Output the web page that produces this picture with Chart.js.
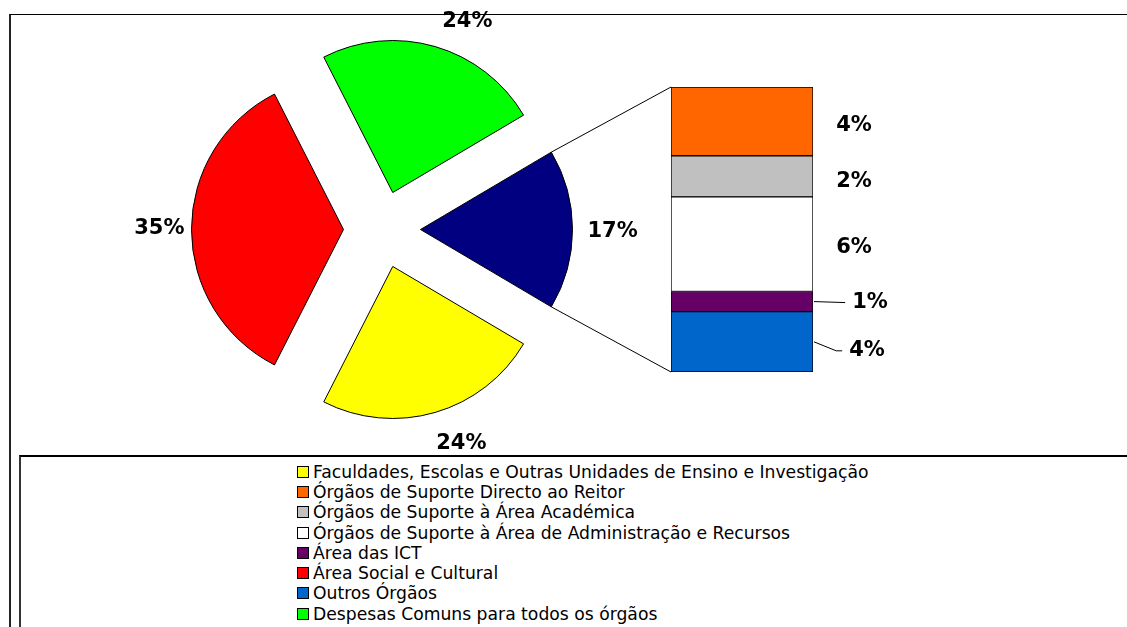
<!DOCTYPE html>
<html>
<head>
<meta charset="utf-8">
<script src="https://cdn.jsdelivr.net/npm/chart.js@4.4.1/dist/chart.umd.min.js"></script>
<style>
  html, body { margin:0; padding:0; background:#fff; width:1127px; height:627px; overflow:hidden; }
  #frame { position:absolute; left:9px; top:14px; width:1130px; height:620px; border-top:1.5px solid #000; border-left:2px solid #222; box-sizing:border-box; }
  #legendBox { position:absolute; left:19px; top:455px; width:1120px; height:180px; border-top:2px solid #000; border-left:2px solid #333; box-sizing:border-box; }
  canvas { position:absolute; left:0; top:0; }
  #legend { position:absolute; left:297px; top:461.5px; font-family:"DejaVu Sans", sans-serif; font-size:17.2px; color:#000; }
  .item { height:20.3px; display:flex; align-items:center; white-space:nowrap; }
  .sw { width:12px; height:12px; border:1px solid #000; box-sizing:border-box; margin-right:4px; flex:none; }
</style>
</head>
<body>
<div id="frame"></div>
<div id="legendBox"></div>
<canvas id="pie" width="1127" height="455"></canvas>
<canvas id="bar" width="1127" height="455"></canvas>
<div id="legend"></div>
<script>
// ---- Data ----
const legendLabels = [
  "Faculdades, Escolas e Outras Unidades de Ensino e Investigação",
  "Órgãos de Suporte Directo ao Reitor",
  "Órgãos de Suporte à Área Académica",
  "Órgãos de Suporte à Área de Administração e Recursos",
  "Área das ICT",
  "Área Social e Cultural",
  "Outros Órgãos",
  "Despesas Comuns para todos os órgãos"
];
const legendColors = ["#FFFF00", "#FF6600", "#C0C0C0", "#FFFFFF", "#660066", "#FF0000", "#0066CC", "#00FF00"];

// main pie (clockwise from the lower right)
const pieLabels = ["Faculdades, Escolas e Outras Unidades de Ensino e Investigação", "Área Social e Cultural", "Despesas Comuns para todos os órgãos", "Outros"];
const pieValues = [24, 35, 24, 17];
const pieColors = ["#FFFF00", "#FF0000", "#00FF00", "#000080"];

// secondary stacked bar (bottom to top)
const barLabels = ["Outros Órgãos", "Área das ICT", "Órgãos de Suporte à Área de Administração e Recursos", "Órgãos de Suporte à Área Académica", "Órgãos de Suporte Directo ao Reitor"];
const barValues = [3.6, 1.2, 5.65, 2.45, 4.1];
const barColors = ["#0066CC", "#660066", "#FFFFFF", "#C0C0C0", "#FF6600"];

// ---- Legend (HTML) ----
const lg = document.getElementById('legend');
legendLabels.forEach((t, i) => {
  const d = document.createElement('div'); d.className = 'item';
  const s = document.createElement('span'); s.className = 'sw'; s.style.background = legendColors[i];
  const tx = document.createElement('span'); tx.textContent = t;
  d.appendChild(s); d.appendChild(tx); lg.appendChild(d);
});

const LABEL_FONT = 'bold 21px "DejaVu Sans", sans-serif';
const EXPLODE = 38.5;
const pieSum = pieValues.reduce((a, b) => a + b, 0);

// ---- Pie chart ----
const explodePlugin = {
  id: 'explode',
  afterDatasetsUpdate(chart) {
    const meta = chart.getDatasetMeta(0);
    meta.data.forEach(el => {
      const mid = (el.startAngle + el.endAngle) / 2;
      el.x += Math.cos(mid) * EXPLODE;
      el.y += Math.sin(mid) * EXPLODE;
    });
  }
};
const pieLabelNudge = [[17, 14], [1, -1], [23, -8], [7, 2]];
const pieLabelPlugin = {
  id: 'pieLabels',
  afterDatasetsDraw(chart) {
    const ctx = chart.ctx;
    const meta = chart.getDatasetMeta(0);
    ctx.save();
    ctx.font = LABEL_FONT;
    ctx.fillStyle = '#000';
    ctx.textAlign = 'center';
    ctx.textBaseline = 'middle';
    meta.data.forEach((el, i) => {
      const mid = (el.startAngle + el.endAngle) / 2;
      const txt = Math.round(pieValues[i] / pieSum * 100) + '%';
      const w = ctx.measureText(txt).width, h = 19;
      const r = el.outerRadius + 8;
      const x = el.x + Math.cos(mid) * (r + w / 2) + pieLabelNudge[i][0];
      const y = el.y + Math.sin(mid) * (r + h / 2) + pieLabelNudge[i][1];
      ctx.fillText(txt, x, y);
    });
    ctx.restore();
  }
};

const pieChart = new Chart(document.getElementById('pie'), {
  type: 'pie',
  data: {
    labels: pieLabels,
    datasets: [{ data: pieValues, backgroundColor: pieColors, borderColor: '#000', borderWidth: 1 }]
  },
  options: {
    responsive: false,
    animation: false,
    events: [],
    rotation: 90 + pieValues[3] / pieSum * 180,
    radius: 152,
    layout: { padding: { left: 0, right: 363, top: 4, bottom: 0 } },
    plugins: { legend: { display: false }, tooltip: { enabled: false } }
  },
  plugins: [explodePlugin, pieLabelPlugin]
});

// ---- Bar of pie ----
const barLabelNudge = [[13, 9], [16, 1], [0, 3], [0, 5], [0, 4]];
const barPlugin = {
  id: 'barExtras',
  afterDatasetsDraw(chart) {
    const ctx = chart.ctx;
    const area = chart.chartArea;
    // connector lines from the "Outros" slice to the bar
    const navy = pieChart.getDatasetMeta(0).data[3];
    const r = navy.outerRadius;
    ctx.save();
    ctx.strokeStyle = '#000';
    ctx.lineWidth = 1;
    ctx.beginPath();
    ctx.moveTo(navy.x + Math.cos(navy.startAngle) * r, navy.y + Math.sin(navy.startAngle) * r);
    ctx.lineTo(area.left, area.top);
    ctx.moveTo(navy.x + Math.cos(navy.endAngle) * r, navy.y + Math.sin(navy.endAngle) * r);
    ctx.lineTo(area.left, area.bottom);
    ctx.stroke();

    ctx.font = LABEL_FONT;
    ctx.fillStyle = '#000';
    ctx.textAlign = 'center';
    ctx.textBaseline = 'middle';
    chart.data.datasets.forEach((ds, i) => {
      const bar = chart.getDatasetMeta(i).data[0];
      const top = Math.min(bar.y, bar.base), bot = Math.max(bar.y, bar.base);
      const segMid = (top + bot) / 2;
      const right = bar.x + bar.width / 2;
      const txt = Math.round(ds.data[0]) + '%';
      const w = ctx.measureText(txt).width;
      const x = right + 41 + barLabelNudge[i][0];
      const y = segMid + barLabelNudge[i][1];
      if (barLabelNudge[i][0] > 0) {
        ctx.beginPath();
        ctx.moveTo(right + 1, segMid);
        const ex = x - w / 2 - 7;
        if (Math.abs(y - segMid) > 3) {
          ctx.lineTo(ex - 6, y);
        }
        ctx.lineTo(ex, y);
        ctx.stroke();
      }
      ctx.fillText(txt, x, y);
    });
    ctx.restore();
  }
};

const barSum = barValues.reduce((a, b) => a + b, 0);
new Chart(document.getElementById('bar'), {
  type: 'bar',
  data: {
    labels: ['Outros'],
    datasets: barValues.map((v, i) => ({
      label: barLabels[i],
      data: [v],
      backgroundColor: barColors[i],
      borderColor: '#000',
      borderWidth: 1,
      borderSkipped: false,
      categoryPercentage: 1,
      barPercentage: 1
    }))
  },
  options: {
    responsive: false,
    animation: false,
    events: [],
    layout: { padding: { left: 671, right: 314, top: 87, bottom: 83 } },
    scales: {
      x: { display: false, stacked: true },
      y: { display: false, stacked: true, min: 0, max: barSum }
    },
    plugins: { legend: { display: false }, tooltip: { enabled: false } }
  },
  plugins: [barPlugin]
});
</script>
</body>
</html>
